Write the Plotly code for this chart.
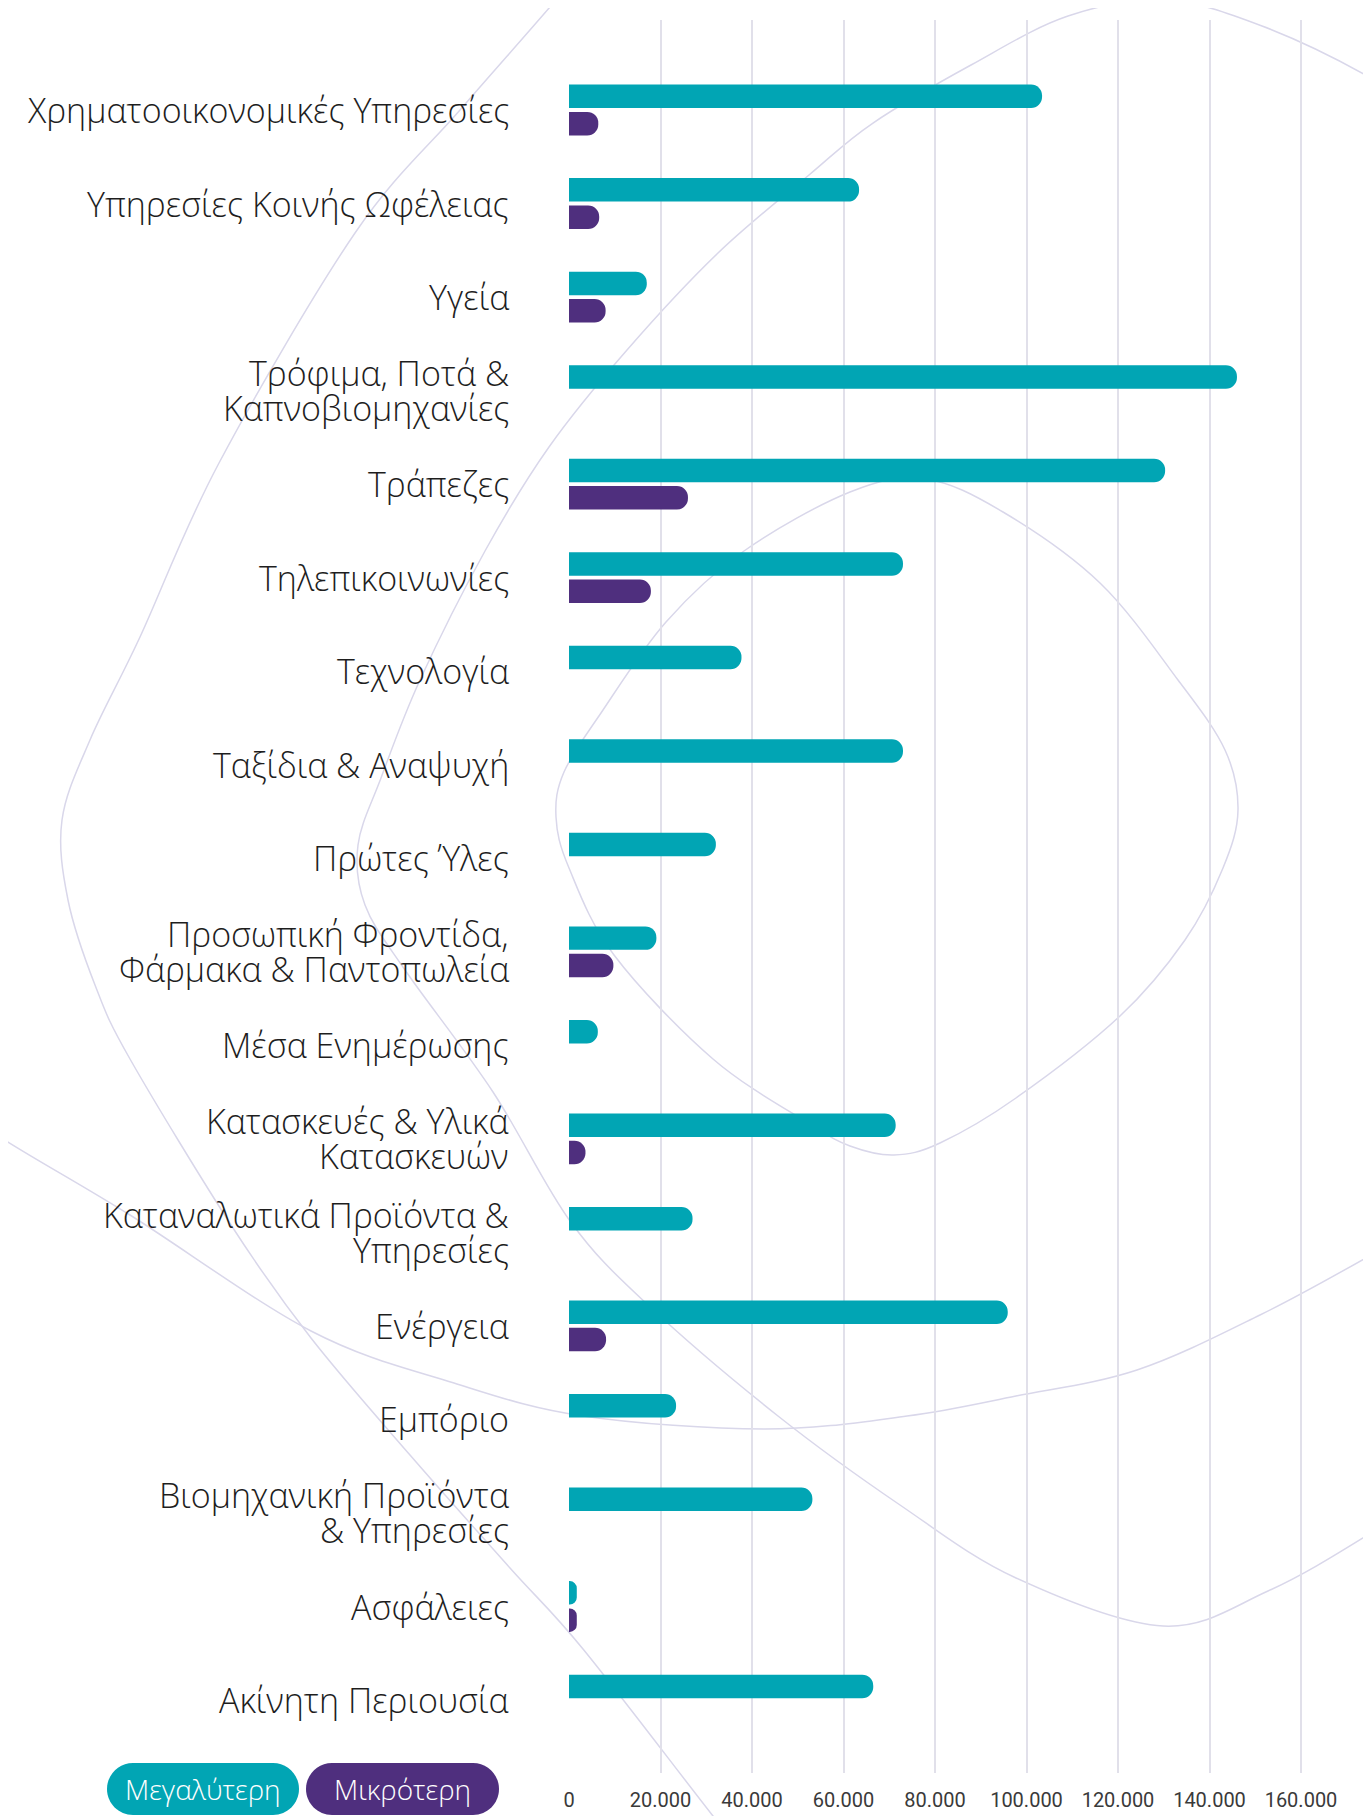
import plotly.graph_objects as go

# ---------------- data ----------------
categories = [
    "Χρηματοοικονομικές Υπηρεσίες",
    "Υπηρεσίες Κοινής Ωφέλειας",
    "Υγεία",
    "Τρόφιμα, Ποτά &<br>Καπνοβιομηχανίες",
    "Τράπεζες",
    "Τηλεπικοινωνίες",
    "Τεχνολογία",
    "Ταξίδια & Αναψυχή",
    "Πρώτες Ύλες",
    "Προσωπική Φροντίδα,<br>Φάρμακα & Παντοπωλεία",
    "Μέσα Ενημέρωσης",
    "Κατασκευές & Υλικά<br>Κατασκευών",
    "Καταναλωτικά Προϊόντα &<br>Υπηρεσίες",
    "Ενέργεια",
    "Εμπόριο",
    "Βιομηχανική Προϊόντα<br>& Υπηρεσίες",
    "Ασφάλειες",
    "Ακίνητη Περιουσία",
]
larger = [103400, 63400, 17000, 146000, 130300, 73000, 37700, 73000, 32100,
          19100, 6300, 71400, 27000, 95900, 23400, 53200, 1700, 66500]
smaller = [6400, 6600, 8000, None, 26000, 17900, None, None, None,
           9700, None, 3600, None, 8100, None, None, 1700, None]
series_names = ["Μεγαλύτερη", "Μικρότερη"]
tick_values = [0, 20000, 40000, 60000, 80000, 100000, 120000, 140000, 160000]
tick_labels = ["0", "20.000", "40.000", "60.000", "80.000", "100.000",
               "120.000", "140.000", "160.000"]

TEAL = "#01A5B4"
PURPLE = "#4F2F7E"
DECOR = "#D9D7EA"
TEXT = "#1e1e1e"

# page is 1371x1816; the browser body has an 8px margin, so the figure is
# made 8px smaller and every page coordinate is shifted by -8.
OFF = 8
PAGE_W, PAGE_H = 1371, 1816
W, H = PAGE_W - OFF, PAGE_H - OFF
PLOT_L, PLOT_T, PLOT_B = 569, 20, 1773          # page coordinates of plot area
L, T = PLOT_L - OFF, PLOT_T - OFF
R, B = 0, PAGE_H - PLOT_B
PW, PH = W - L - R, H - T - B
LABEL_RIGHT = 511
LABEL_SIZE = 34
LINE_GAP = 35


def px(x, y):
    """page pixel -> paper coordinates"""
    return (x - PLOT_L) / PW, (PLOT_B - y) / PH


def smooth_path(pts, closed=False):
    P = [px(x, y) for x, y in pts]
    n = len(P)
    seg = []
    rng = range(n) if closed else range(n - 1)
    for i in rng:
        p0 = P[(i - 1) % n] if closed else P[max(i - 1, 0)]
        p1 = P[i % n]
        p2 = P[(i + 1) % n]
        p3 = P[(i + 2) % n] if closed else P[min(i + 2, n - 1)]
        c1 = (p1[0] + (p2[0] - p0[0]) / 6, p1[1] + (p2[1] - p0[1]) / 6)
        c2 = (p2[0] - (p3[0] - p1[0]) / 6, p2[1] - (p3[1] - p1[1]) / 6)
        seg.append(f"C {c1[0]:.5f},{c1[1]:.5f} {c2[0]:.5f},{c2[1]:.5f} {p2[0]:.5f},{p2[1]:.5f}")
    d = f"M {P[0][0]:.5f},{P[0][1]:.5f} " + " ".join(seg)
    if closed:
        d += " Z"
    return d


def pill_path(x0, y0, x1, y1):
    r = (y1 - y0) / 2
    k = 0.5523 * r

    def p(x, y):
        a, b = px(x, y)
        return f"{a:.5f},{b:.5f}"
    d = [f"M {p(x0 + r, y0)}",
         f"L {p(x1 - r, y0)}",
         f"C {p(x1 - r + k, y0)} {p(x1, y0 + r - k)} {p(x1, y0 + r)}",
         f"C {p(x1, y0 + r + k)} {p(x1 - r + k, y1)} {p(x1 - r, y1)}",
         f"L {p(x0 + r, y1)}",
         f"C {p(x0 + r - k, y1)} {p(x0, y0 + r + k)} {p(x0, y0 + r)}",
         f"C {p(x0, y0 + r - k)} {p(x0 + r - k, y0)} {p(x0 + r, y0)}",
         "Z"]
    return " ".join(d)


# decorative background curves (page pixel coords)
curve_a = [(640, -100), (556, 0), (460, 110), (355, 233), (219, 463), (140, 637),
           (90, 740), (62, 820), (68, 900), (95, 985), (130, 1059), (233, 1228),
           (311, 1338), (410, 1455), (510, 1568), (583, 1649), (713, 1816), (780, 1900)]
curve_b = [(1500, 160), (1371, 78), (1262, 26), (1165, 0), (1068, 16), (971, 65),
           (873, 123), (809, 175), (718, 253), (627, 350), (549, 447), (485, 551),
           (420, 680), (381, 778), (358, 845), (365, 905), (405, 970), (493, 1092),
           (570, 1221), (648, 1305), (778, 1416), (900, 1505), (1016, 1578), (1163, 1626),
           (1268, 1591), (1371, 1533), (1480, 1460)]
curve_c = [(-80, 1080), (0, 1137), (130, 1215), (311, 1331), (454, 1383), (583, 1416),
           (765, 1429), (907, 1416), (1016, 1396), (1137, 1370), (1260, 1315), (1371, 1255),
           (1480, 1190)]
curve_e = [(925, 479), (1003, 512), (1100, 583), (1178, 680), (1225, 750), (1238, 810),
           (1223, 868), (1185, 940), (1120, 1016), (1016, 1098), (940, 1143), (894, 1155),
           (850, 1146), (810, 1124), (713, 1059), (614, 955), (569, 868), (556, 817),
           (564, 772), (601, 713), (666, 622), (744, 551), (850, 492)]

fig = go.Figure()
fig.add_trace(go.Bar(y=categories, x=larger, name=series_names[0], orientation="h",
                     marker=dict(color=TEAL, line=dict(width=0)), showlegend=False))
fig.add_trace(go.Bar(y=categories, x=smaller, name=series_names[1], orientation="h",
                     marker=dict(color=PURPLE, line=dict(width=0)), showlegend=False))

shapes = []
for pts, closed in [(curve_a, False), (curve_b, False), (curve_c, False), (curve_e, True)]:
    shapes.append(dict(type="path", xref="paper", yref="paper", layer="below",
                       path=smooth_path(pts, closed), line=dict(color=DECOR, width=1.5)))

annotations = []
# category labels (one annotation per text line, for tight line spacing)
label_x = px(LABEL_RIGHT, 0)[0]
for i, cat in enumerate(categories):
    lines = cat.split("<br>")
    n = len(lines)
    for j, line in enumerate(lines):
        shift = ((n - 1) / 2 - j) * LINE_GAP
        annotations.append(dict(x=label_x, xref="paper", y=i, yref="y", yshift=shift,
                                text=line, showarrow=False, xanchor="right", yanchor="middle",
                                font=dict(family="Open Sans", size=LABEL_SIZE, color=TEXT,
                                          weight=300)))

pills = [((107, 1763, 299, 1815), TEAL, series_names[0]),
         ((306, 1763, 499, 1815), PURPLE, series_names[1])]
for (x0, y0, x1, y1), col, name in pills:
    shapes.append(dict(type="path", xref="paper", yref="paper", layer="above",
                       path=pill_path(x0, y0, x1, y1), fillcolor=col, line=dict(width=0)))
    cx, cy = px((x0 + x1) / 2, (y0 + y1) / 2)
    annotations.append(dict(x=cx, y=cy, xref="paper", yref="paper", text=name,
                            showarrow=False, xanchor="center", yanchor="middle",
                            font=dict(family="Open Sans", size=28, color="white", weight=300)))

fig.update_layout(
    width=W, height=H,
    margin=dict(l=L, r=R, t=T, b=B, pad=0, autoexpand=False),
    paper_bgcolor="white", plot_bgcolor="rgba(0,0,0,0)",
    barmode="group", bargap=0.416, bargroupgap=0.14, barcornerradius=12,
    font=dict(family="Open Sans", color=TEXT, weight=300),
    shapes=shapes, annotations=annotations,
    xaxis=dict(range=[0, 175300], tickvals=tick_values, ticktext=tick_labels,
               automargin=False,
               showgrid=True, gridcolor="#E1E0EA", gridwidth=1.5, zeroline=False,
               showline=False, ticks="", ticklabelstandoff=13,
               tickfont=dict(family="Liberation Sans Narrow, Roboto, Open Sans", size=20,
                             color="#3a3a3a", weight=400)),
    yaxis=dict(type="category", range=[17.78, -0.962], showgrid=False, zeroline=False,
               automargin=False, showline=False, ticks="", showticklabels=False),
)

fig.write_html("out.html")
